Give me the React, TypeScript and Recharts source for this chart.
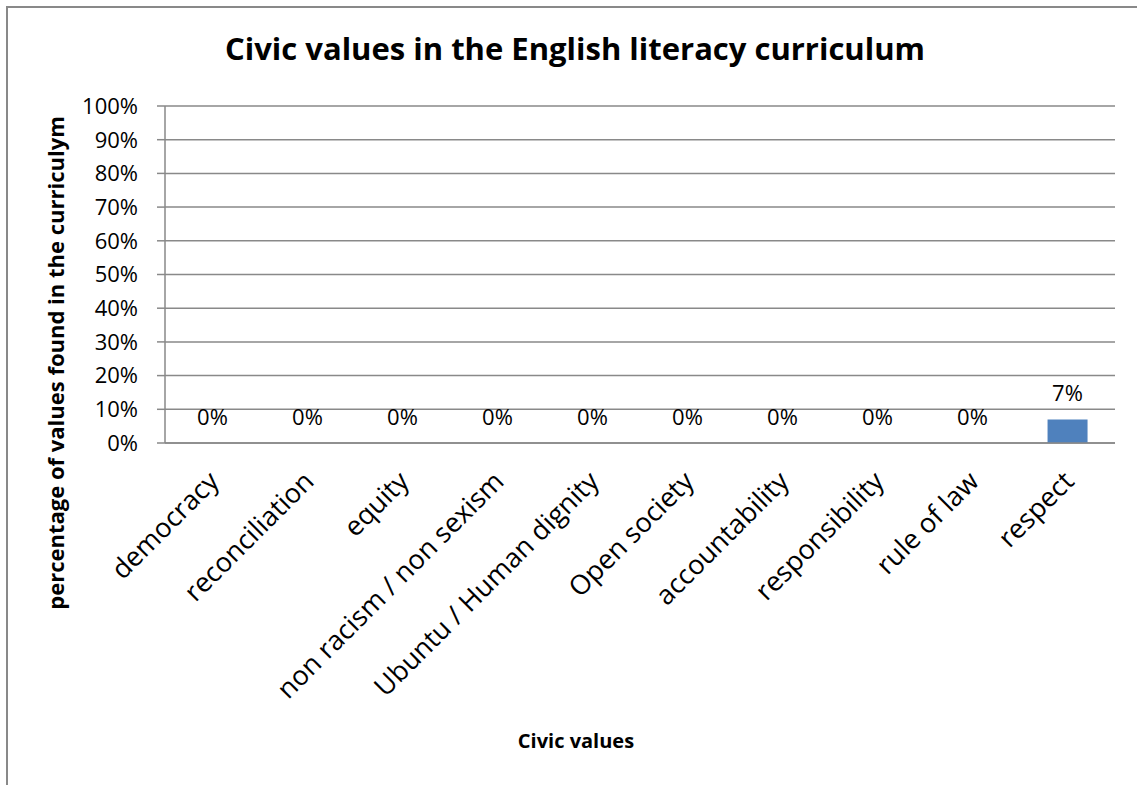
import { ComposedChart, Bar, Line, XAxis, YAxis, CartesianGrid, LabelList, Label } from 'recharts';

const categories = [
  'democracy',
  'reconciliation',
  'equity',
  'non racism / non sexism',
  'Ubuntu / Human dignity',
  'Open society',
  'accountability',
  'responsibility',
  'rule of law',
  'respect',
];
const shares = [0, 0, 0, 0, 0, 0, 0, 0, 0, 7];
const yTicks = [0, 10, 20, 30, 40, 50, 60, 70, 80, 90, 100];

const data = categories.map((name, i) => ({ name, value: shares[i] }));

const FONT = '"Open Sans", sans-serif';
const GREY = '#898989';

const CategoryTick = (props: any) => {
  const { x, y, payload } = props;
  const ax = x + 8;
  const ay = y + 32;
  return (
    <text
      x={ax}
      y={ay}
      textAnchor="end"
      fontFamily={FONT}
      fontSize={27}
      fill="#000"
      transform={`rotate(-45, ${ax}, ${ay})`}
    >
      {payload.value}
    </text>
  );
};

export default function App() {
  return (
    <div style={{ position: 'absolute', left: 0, top: 0, width: 1137, height: 785, overflow: 'hidden', background: '#fff' }}>
      <div
        style={{
          position: 'absolute',
          left: 6,
          top: 6,
          width: 1300,
          height: 1000,
          borderLeft: `2px solid ${GREY}`,
          borderTop: `2px solid ${GREY}`,
        }}
      />
      <div
        style={{
          position: 'absolute',
          left: 0,
          width: 1150,
          top: 28,
          textAlign: 'center',
          fontFamily: FONT,
          fontWeight: 700,
          fontSize: 31,
          lineHeight: '40px',
          color: '#000',
        }}
      >
        Civic values in the English literacy curriculum
      </div>
      <div style={{ position: 'absolute', left: 0, top: 0 }}>
        <ComposedChart
          width={1137}
          height={785}
          data={data}
          margin={{ top: 106, right: 22, left: 0, bottom: 0 }}
          barCategoryGap="29%"
        >
          <CartesianGrid vertical={false} stroke={GREY} strokeWidth={1.5} />
          <XAxis
            dataKey="name"
            height={342}
            interval={0}
            tickLine={false}
            axisLine={{ stroke: GREY, strokeWidth: 1.5 }}
            tick={<CategoryTick />}
          >
            <Label
              content={() => (
                <text x={576} y={748} textAnchor="middle" fontFamily={FONT} fontWeight={700} fontSize={20} fill="#000">
                  Civic values
                </text>
              )}
            />
          </XAxis>
          <YAxis
            width={165}
            domain={[0, 100]}
            ticks={yTicks}
            interval={0}
            tickFormatter={(v: number) => `${v}%`}
            tickSize={8}
            tickMargin={19}
            tickLine={{ stroke: GREY, strokeWidth: 1.5 }}
            axisLine={{ stroke: GREY, strokeWidth: 1.5 }}
            tick={{ fontFamily: FONT, fontSize: 22, fill: '#000' }}
          >
            <Label
              content={() => (
                <text
                  x={64}
                  y={363}
                  textAnchor="middle"
                  fontFamily={FONT}
                  fontWeight={700}
                  fontSize={22}
                  fill="#000"
                  transform="rotate(-90, 64, 363)"
                >
                  percentage of values found in the curriculym
                </text>
              )}
            />
          </YAxis>
          <Bar dataKey="value" fill="#4F81BD" isAnimationActive={false} />
          <Line
            dataKey="value"
            stroke="none"
            dot={false}
            activeDot={false}
            legendType="none"
            isAnimationActive={false}
          >
            <LabelList
              dataKey="value"
              position="top"
              offset={18}
              formatter={(v: any) => `${v}%`}
              style={{ fontFamily: FONT, fontSize: 22, fill: '#000' }}
            />
          </Line>
        </ComposedChart>
      </div>
    </div>
  );
}
